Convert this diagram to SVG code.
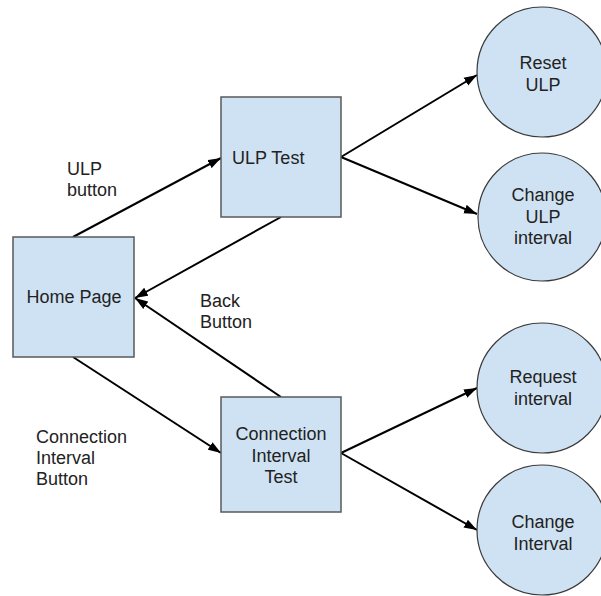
<svg xmlns="http://www.w3.org/2000/svg" width="601" height="596" viewBox="0 0 601 596">
  <defs>
    <marker id="arrow" markerUnits="userSpaceOnUse" markerWidth="14" markerHeight="10" refX="13" refY="5" orient="auto">
      <path d="M0,0.5 L13,5 L0,9.5 z" fill="#000"/>
    </marker>
  </defs>
  <style>
    .box { fill: #cfe2f3; stroke: #595959; stroke-width: 1.5; }
    .circ { fill: #cfe2f3; stroke: #3a3a3a; stroke-width: 1.2; }
    .lbl { font-family: "Liberation Sans", Arial, sans-serif; font-size: 18px; fill: #222; }
    .mid { text-anchor: middle; }
    .edge { stroke: #000; stroke-width: 2; fill: none; marker-end: url(#arrow); }
  </style>
  <rect width="601" height="596" fill="#fff"/>

  <!-- connectors -->
  <g id="connectors">
    <line class="edge" x1="73" y1="237" x2="221" y2="158"/>
    <line class="edge" x1="281" y1="217" x2="135" y2="298"/>
    <line class="edge" x1="281" y1="397" x2="135" y2="298"/>
    <line class="edge" x1="73" y1="357" x2="221" y2="453"/>
    <line class="edge" x1="341" y1="157" x2="477" y2="75"/>
    <line class="edge" x1="341" y1="157" x2="477" y2="214"/>
    <line class="edge" x1="341" y1="453" x2="477" y2="388"/>
    <line class="edge" x1="341" y1="453" x2="477" y2="530"/>
  </g>

  <!-- edge labels -->
  <g id="edge-labels" class="lbl">
    <text x="67" y="175">ULP</text>
    <text x="67" y="196">button</text>
    <text x="200" y="307">Back</text>
    <text x="200" y="328">Button</text>
    <text x="36" y="443">Connection</text>
    <text x="36" y="464">Interval</text>
    <text x="36" y="485">Button</text>
  </g>

  <g id="home-page">
    <rect class="box" x="13" y="237" width="121" height="120"/>
    <text class="lbl mid" x="74" y="303">Home Page</text>
  </g>

  <g id="ulp-test">
    <rect class="box" x="221" y="97" width="120" height="120"/>
    <text class="lbl" x="232" y="164">ULP Test</text>
  </g>

  <g id="connection-interval-test">
    <rect class="box" x="221" y="397" width="120" height="115"/>
    <text class="lbl mid" x="281" y="440">Connection</text>
    <text class="lbl mid" x="281" y="462">Interval</text>
    <text class="lbl mid" x="281" y="483">Test</text>
  </g>

  <g id="reset-ulp">
    <circle class="circ" cx="542" cy="72" r="65"/>
    <text class="lbl mid" x="543" y="69">Reset</text>
    <text class="lbl mid" x="543" y="91">ULP</text>
  </g>

  <g id="change-ulp-interval">
    <circle class="circ" cx="542" cy="217" r="64"/>
    <text class="lbl mid" x="543" y="201">Change</text>
    <text class="lbl mid" x="543" y="223">ULP</text>
    <text class="lbl mid" x="543" y="244">interval</text>
  </g>

  <g id="request-interval">
    <circle class="circ" cx="542" cy="388" r="65"/>
    <text class="lbl mid" x="543" y="383">Request</text>
    <text class="lbl mid" x="543" y="405">interval</text>
  </g>

  <g id="change-interval">
    <circle class="circ" cx="542" cy="530" r="65"/>
    <text class="lbl mid" x="543" y="528">Change</text>
    <text class="lbl mid" x="543" y="550">Interval</text>
  </g>
</svg>
